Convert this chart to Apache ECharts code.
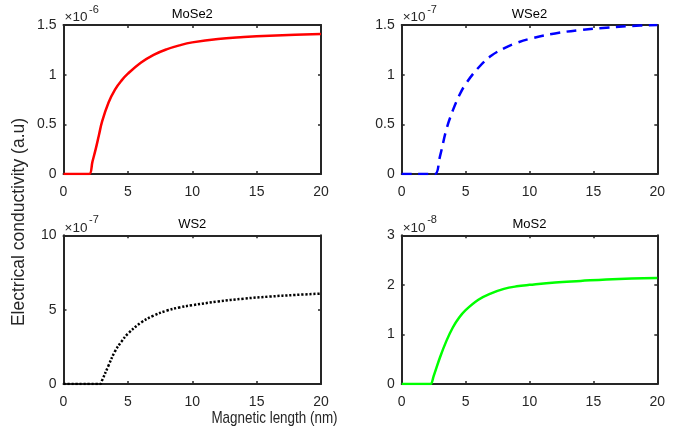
<!DOCTYPE html>
<html>
<head>
<meta charset="utf-8">
<style>
  html, body { margin: 0; padding: 0; background: #ffffff; }
  #chart { width: 689px; height: 433px; }
</style>
<script src="https://cdn.jsdelivr.net/npm/echarts/dist/echarts.min.js"></script>
</head>
<body>
<div id="chart"></div>
<script>
// Electrical conductivity against magnetic length for four TMD monolayers.
// Each panel's values are in units of the power of ten printed above its y axis.

const xTicks = [0, 5, 10, 15, 20];

const mose2X = [0, 0.5, 1, 1.5, 2, 2.25, 2.5, 2.75, 3, 3.5, 4, 4.5, 5, 6, 7, 8, 9, 10, 12, 14, 16, 18, 20];
const mose2Y = [0, 0, 0, 0, 0, 0.125, 0.25, 0.39, 0.53, 0.72, 0.85, 0.94, 1.01, 1.12, 1.20, 1.255, 1.295, 1.325, 1.36, 1.378, 1.392, 1.402, 1.41];

const wse2X = [0, 0.5, 1, 1.5, 2, 2.6, 3, 3.5, 4, 4.5, 5, 6, 7, 8, 9, 10, 12, 14, 16, 18, 20];
const wse2Y = [0, 0, 0, 0, 0, 0, 0.18, 0.45, 0.64, 0.79, 0.905, 1.07, 1.19, 1.265, 1.32, 1.36, 1.415, 1.45, 1.473, 1.49, 1.5];

const ws2X = [0, 0.5, 1, 1.5, 2, 2.5, 2.85, 3, 3.5, 4, 4.5, 5, 6, 7, 8, 9, 10, 12, 14, 16, 18, 20];
const ws2Y = [0, 0, 0, 0, 0, 0, 0, 0.25, 1.25, 2.2, 2.85, 3.38, 4.12, 4.6, 4.93, 5.15, 5.3, 5.55, 5.74, 5.88, 5.99, 6.08];

const mos2X = [0, 0.5, 1, 1.5, 2, 2.25, 2.5, 3, 3.5, 4, 4.5, 5, 6, 7, 8, 9, 10, 12, 14, 16, 18, 20];
const mos2Y = [0, 0, 0, 0, 0, 0, 0.16, 0.54, 0.87, 1.14, 1.34, 1.49, 1.70, 1.83, 1.92, 1.97, 2.0, 2.05, 2.08, 2.11, 2.13, 2.14];

const panelTitles = ['MoSe2', 'WSe2', 'WS2', 'MoS2'];
const panelExponents = ['-6', '-7', '-7', '-8'];
const yMaxima = [1.5, 1.5, 10, 3];
const yIntervals = [0.5, 0.5, 5, 1];

const xLabel = 'Magnetic length (nm)';
const yLabel = 'Electrical conductivity (a.u)';

// layout of the 2x2 panel grid (px)
const boxes = [
  { left: 63.5, top: 25, width: 257.5, height: 149 },
  { left: 401.7, top: 25, width: 255.6, height: 149 },
  { left: 63.5, top: 235.3, width: 257.5, height: 148.7 },
  { left: 401.7, top: 235.3, width: 255.6, height: 148.7 }
];

const ink = '#262626';
const font = 'Liberation Sans, Arial, Helvetica, sans-serif';

const lineStyles = [
  { color: '#ff0000', width: 2.5, type: 'solid' },
  { color: '#0000ff', width: 2.5, type: [10, 6.5] },
  { color: '#000000', width: 2.5, type: [2.2, 1.8], cap: 'butt' },
  { color: '#00ff00', width: 2.5, type: 'solid' }
];

const seriesX = [mose2X, wse2X, ws2X, mos2X];
const seriesY = [mose2Y, wse2Y, ws2Y, mos2Y];

const grid = [];
const xAxis = [];
const yAxis = [];
const series = [];
const graphic = [];

boxes.forEach((b, i) => {
  grid.push({ left: b.left, top: b.top, width: b.width, height: b.height, containLabel: false });

  const baseX = {
    type: 'value', gridIndex: i, min: xTicks[0], max: xTicks[xTicks.length - 1],
    interval: xTicks[1] - xTicks[0],
    splitLine: { show: false },
    axisLine: { show: true, onZero: false, lineStyle: { color: ink, width: 2 } },
    axisTick: { show: true, inside: true, length: 3, lineStyle: { color: ink, width: 1.5 } }
  };
  xAxis.push(Object.assign({}, baseX, {
    position: 'bottom',
    axisLabel: { show: true, margin: 11, color: ink, fontSize: 14, fontFamily: font }
  }));
  xAxis.push(Object.assign({}, baseX, { position: 'top', axisLabel: { show: false } }));

  const baseY = {
    type: 'value', gridIndex: i, min: 0, max: yMaxima[i], interval: yIntervals[i],
    splitLine: { show: false },
    axisLine: { show: true, onZero: false, lineStyle: { color: ink, width: 2 } },
    axisTick: { show: true, inside: true, length: 3, lineStyle: { color: ink, width: 1.5 } }
  };
  yAxis.push(Object.assign({}, baseY, {
    position: 'left',
    axisLabel: { show: true, margin: 7, color: ink, fontSize: 14, fontFamily: font }
  }));
  yAxis.push(Object.assign({}, baseY, { position: 'right', axisLabel: { show: false } }));

  series.push({
    type: 'line',
    name: panelTitles[i],
    xAxisIndex: i * 2,
    yAxisIndex: i * 2,
    data: seriesX[i].map((x, k) => [x, seriesY[i][k]]),
    showSymbol: false,
    smooth: 0.4,
    lineStyle: lineStyles[i],
    z: 3
  });

  // panel title
  graphic.push({
    type: 'text', x: b.left + b.width / 2, y: b.top - 11,
    style: { text: panelTitles[i], fill: '#000', font: '13px ' + font, textAlign: 'center', textVerticalAlign: 'middle' }
  });
  // power-of-ten multiplier above the y axis
  graphic.push({
    type: 'text', x: b.left + 1, y: b.top - 7.5,
    style: { text: '\u00d710', fill: ink, font: '13.5px ' + font, textAlign: 'left', textVerticalAlign: 'middle' }
  });
  graphic.push({
    type: 'text', x: b.left + 25.5, y: b.top - 15,
    style: { text: panelExponents[i], fill: ink, font: '11px ' + font, textAlign: 'left', textVerticalAlign: 'middle' }
  });
});

// shared axis titles
graphic.push({
  type: 'text', x: 274.5, y: 418.5, scaleX: 0.79,
  style: { text: xLabel, fill: ink, font: '17px ' + font, textAlign: 'center', textVerticalAlign: 'middle' }
});
graphic.push({
  type: 'text', x: 19.5, y: 222, rotation: Math.PI / 2,
  style: { text: yLabel, fill: ink, font: '17.5px ' + font, textAlign: 'center', textVerticalAlign: 'middle' }
});

const chart = echarts.init(document.getElementById('chart'), null, { renderer: 'canvas' });
chart.setOption({
  backgroundColor: '#ffffff',
  animation: false,
  grid, xAxis, yAxis, series, graphic
});
</script>
</body>
</html>
